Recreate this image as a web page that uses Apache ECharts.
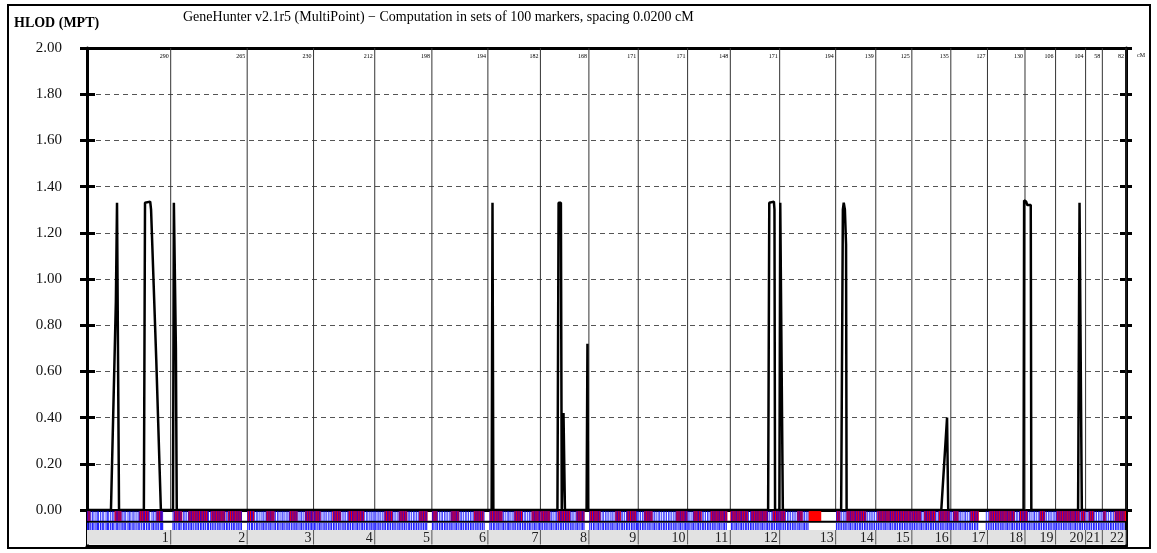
<!DOCTYPE html>
<html><head><meta charset="utf-8">
<script src="https://cdn.jsdelivr.net/npm/echarts@6/dist/echarts.min.js"></script>
<style>html,body{margin:0;padding:0;background:#fff}#c{width:1157px;height:553px}</style>
</head><body><div id="c"></div>
<script>
// ---------- DATA ----------
const chromosomes = ['1','2','3','4','5','6','7','8','9','10','11','12','13','14','15','16','17','18','19','20','21','22'];
const chromLengths = [290,265,230,212,198,194,182,168,171,171,148,171,194,139,125,135,127,130,106,104,58,82];
const yTicks = [0,0.2,0.4,0.6,0.8,1.0,1.2,1.4,1.6,1.8,2.0];
const titleText = 'GeneHunter v2.1r5 (MultiPoint) \u2212 Computation in sets of 100 markers, spacing 0.0200 cM';
const yAxisTitle = 'HLOD (MPT)';
// genome-wide position (cM) and HLOD score of the curve
const hlodPos = [0,83,100,104,109,111,197,201,204,219,222,240,256,298,301,304,308,311,1402,1405,1408,1630,1634,1642,1645,1650,1651,1655,1656,1731,1734,1736,2360,2364,2366,2380,2382,2384,2399,2402,2408,2411,2613,2619,2622,2626,2630,2632,2960,2980,2984,3245,3247,3254,3258,3270,3272,3434,3439,3445,3447,3600];
const hlodVal = [0,0,0.90,1.33,1.33,0,0,1.33,1.335,1.335,1.30,0.65,0,0,1.33,1.33,0.70,0,0,1.33,0,0,1.33,1.33,0,0,0.42,0.42,0,0,0.72,0,0,1.33,1.335,1.335,1.30,0,0,1.33,1.33,0,0,1.30,1.33,1.30,1.15,0,0,0.40,0,0,1.34,1.335,1.32,1.32,0,0,1.33,1.33,0,0];
// marker positions (cM, genome-wide)
const markerPos = [
2,7,13,19,24,31,36,40,47,53,58,66,71,75,82,88,93,101,105,111,118,124,129,134,142,147,152,159,163,170,177,181,188,195,199,206,212,217,225,230,236,242,247,254,258,262,
298,303,309,316,321,326,334,339,344,351,357,362,368,375,381,386,393,398,404,410,417,421,428,434,440,446,453,458,464,471,476,483,488,494,501,507,512,519,524,530,535,
557,563,570,574,581,588,592,599,606,611,617,623,630,635,641,648,653,660,665,672,678,683,690,696,701,708,714,720,725,731,738,743,749,756,761,767,773,778,783,
788,793,800,806,811,818,824,829,836,842,847,854,859,865,872,877,884,890,895,902,907,913,920,925,932,937,943,950,955,961,968,973,980,985,991,995,
999,1005,1011,1016,1023,1029,1034,1041,1046,1052,1059,1064,1070,1077,1082,1088,1094,1100,1106,1113,1118,1124,1131,1136,1142,1148,1154,1160,1166,1172,1177,
1197,1202,1209,1214,1221,1227,1232,1239,1244,1250,1257,1262,1268,1275,1280,1286,1293,1298,1304,1311,1316,1322,1329,1334,1340,1347,1352,1358,1364,1370,1376,
1396,1401,1408,1413,1420,1425,1431,1438,1443,1449,1456,1461,1466,1473,1479,1484,1491,1497,1502,1509,1515,1520,1527,1533,1538,1545,1551,1556,1563,1568,
1573,1579,1586,1591,1597,1604,1609,1615,1622,1627,1633,1640,1645,1651,1658,1663,1669,1676,1681,1687,1694,1699,1705,1712,1717,1722,
1742,1748,1755,1760,1767,1772,1778,1785,1790,1797,1802,1808,1815,1820,1826,1833,1838,1844,1851,1856,1862,1869,1874,1880,1887,1892,1898,1904,1908,
1912,1918,1925,1930,1936,1943,1948,1954,1961,1966,1972,1979,1984,1990,1997,2002,2008,2015,2020,2026,2033,2038,2044,2051,2056,2062,2069,2074,2079,
2083,2089,2096,2101,2107,2114,2119,2125,2132,2137,2143,2150,2155,2161,2168,2173,2179,2186,2191,2197,2204,2209,2215,
2233,2238,2245,2250,2256,2263,2268,2274,2281,2286,2292,2299,2304,2310,2317,2322,2328,2335,2340,2346,2353,2358,2364,2371,2376,2382,2389,2394,2398,
2402,2408,2414,2420,2427,2432,2438,2445,2450,2456,2463,2468,2474,2481,2486,2492,2498,
2597,2603,2609,2615,2622,2627,2633,2640,2645,2651,2658,2663,2669,2676,2681,2687,2694,2699,2705,2712,2717,2723,2729,
2736,2742,2748,2754,2761,2766,2772,2779,2784,2790,2797,2802,2808,2815,2820,2826,2833,2838,2844,2851,2855,
2861,2867,2873,2879,2886,2891,2897,2904,2909,2915,2922,2927,2933,2940,2945,2951,2958,2963,2969,2976,2981,2987,2991,
2996,3002,3008,3014,3021,3026,3032,3039,3044,3050,3057,3062,3068,3075,3080,3086,3116,
3123,3129,3135,3141,3148,3153,3159,3166,3171,3177,3184,3189,3195,3202,3207,3213,3220,3225,3231,3238,3243,3248,
3253,3259,3265,3271,3278,3283,3289,3296,3301,3307,3314,3319,3325,3332,3337,3343,3350,3354,
3359,3365,3371,3377,3384,3389,3395,3402,3407,3413,3420,3425,3431,3438,3443,3449,3456,
3462,3468,3474,3480,3487,3492,3498,3505,3510,3516,
3521,3527,3533,3539,3546,3551,3557,3564,3569,3575,3582,3587,3593];
// red blocks in the marker map row (cM intervals)
const redBlocks = [[0,12],[95,120],[180,215],[240,262],[300,330],[350,420],[430,480],[488,537],[555,580],[620,650],[700,730],[755,785],[785,810],[850,880],[905,960],[1030,1060],[1080,1110],[1150,1180],[1195,1215],[1260,1290],[1340,1375],[1395,1440],[1480,1510],[1540,1571],[1571,1605],[1630,1675],[1695,1724],[1741,1780],[1830,1850],[1869,1904],[1930,1960],[2040,2081],[2100,2130],[2160,2219],[2229,2290],[2300,2360],[2375,2400],[2400,2420],[2460,2480],[2500,2544],[2596,2610],[2631,2700],[2738,2858],[2858,2890],[2900,2940],[2950,2990],[3000,3020],[3060,3090],[3126,3215],[3230,3250],[3250,3260],[3300,3320],[3358,3440],[3444,3460],[3470,3490],[3520,3530],[3560,3600]];

// ---------- BUILD ----------
const chromEnds = [];
let acc = 0;
chromLengths.forEach((l,i)=>{ acc += l; chromEnds.push([acc, i]); });
const total = acc;
const SERIF = '"Liberation Serif", "DejaVu Serif", serif';

const chart = echarts.init(document.getElementById('c'), null, {renderer:'canvas'});

function baseY(grid, pos, extra){
  return Object.assign({type:'value', gridIndex:grid, position:pos, min:yTicks[0], max:yTicks[yTicks.length-1], interval:yTicks[1]-yTicks[0],
    axisLabel:{show:false}, splitLine:{show:false}, axisLine:{show:false}, axisTick:{show:false}}, extra);
}

const option = {
  animation:false,
  backgroundColor:'#fff',
  grid:[
    {left:87, right:31, top:48, height:462},
    {left:87, right:31, top:510, height:36}
  ],
  xAxis:[
    {type:'value', gridIndex:0, min:0, max:total, position:'bottom', axisLine:{show:true, onZero:false, lineStyle:{color:'#000', width:3}}, axisTick:{show:false}, axisLabel:{show:false}, splitLine:{show:false}},
    {type:'value', gridIndex:0, min:0, max:total, position:'top', axisLine:{show:true, onZero:false, lineStyle:{color:'#000', width:3}}, axisTick:{show:false}, axisLabel:{show:false}, splitLine:{show:false}},
    {type:'value', gridIndex:1, min:0, max:total, position:'bottom', axisLine:{show:true, onZero:false, lineStyle:{color:'#000', width:3}}, axisTick:{show:false}, axisLabel:{show:false}, splitLine:{show:false}}
  ],
  yAxis:[
    baseY(0,'left',{axisLine:{show:true, lineStyle:{color:'#000', width:3}}, axisTick:{show:true, length:7, lineStyle:{color:'#000', width:3}},
      axisLabel:{show:true, margin:25, fontSize:15, fontFamily:SERIF, color:'#111', formatter:v=>v.toFixed(2)},
      splitLine:{show:true, lineStyle:{color:'#555', width:1, type:[5,4]}}}),
    baseY(0,'left',{axisTick:{show:true, inside:true, length:8, lineStyle:{color:'#000', width:3}}}),
    baseY(0,'right',{axisLine:{show:true, lineStyle:{color:'#000', width:3}}, axisTick:{show:true, length:6, lineStyle:{color:'#000', width:3}}}),
    baseY(0,'right',{axisTick:{show:true, inside:true, length:6, lineStyle:{color:'#000', width:3}}}),
    {type:'value', gridIndex:1, min:0, max:36, position:'left', axisLine:{show:true, lineStyle:{color:'#000', width:3}}, axisTick:{show:false}, axisLabel:{show:false}, splitLine:{show:false}},
    {type:'value', gridIndex:1, min:0, max:36, position:'right', axisLine:{show:true, lineStyle:{color:'#000', width:3}}, axisTick:{show:false}, axisLabel:{show:false}, splitLine:{show:false}}
  ],
  graphic:[
    {type:'rect', shape:{x:8, y:5, width:1142, height:543}, style:{fill:'none', stroke:'#000', lineWidth:2}, z:100},
    {type:'text', left:14, top:16, style:{text:yAxisTitle, fontSize:14, fontWeight:'bold', fontFamily:SERIF, fill:'#000'}},
    {type:'text', left:183, top:10, style:{text:titleText, fontSize:14, fontFamily:SERIF, fill:'#000'}},
    {type:'text', left:1137, top:52, style:{text:'cM', fontSize:6, fontFamily:SERIF, fill:'#000'}}
  ],
  series:[
    { // chromosome boundaries + length labels in the plot
      type:'custom', xAxisIndex:0, yAxisIndex:0, silent:true, z:1,
      data: chromEnds.map(e=>[e[0], e[1]]),
      renderItem:(params, api)=>{
        const x = api.value(0), i = api.value(1);
        const top = api.coord([x, 2]), bot = api.coord([x, 0]);
        return {type:'group', children:[
          {type:'line', shape:{x1:top[0], y1:top[1], x2:bot[0], y2:bot[1]}, style:{stroke:'#333', lineWidth:1}},
          {type:'text', style:{text:String(chromLengths[i]), x:top[0]-2, y:top[1]+8, align:'right', verticalAlign:'middle', fontSize:6, fontFamily:SERIF, fill:'#000'}}
        ]};
      }
    },
    {
      type:'line', xAxisIndex:0, yAxisIndex:0, z:5, symbol:'none', showSymbol:false,
      data: hlodPos.map((p,i)=>[p, hlodVal[i]]),
      lineStyle:{color:'#000', width:2.5}
    },
    { // gray chromosome band + row separator
      type:'custom', xAxisIndex:2, yAxisIndex:4, silent:true, z:1,
      data:[[0,total]],
      renderItem:(params, api)=>{
        const a = api.coord([api.value(0), 16]), b = api.coord([api.value(1), 1.5]);
        const s1 = api.coord([api.value(0), 24.3]), s2 = api.coord([api.value(1), 24.3]);
        return {type:'group', children:[
          {type:'rect', shape:{x:a[0], y:a[1], width:b[0]-a[0], height:b[1]-a[1]}, style:{fill:'#e2e2e2'}},
          {type:'line', shape:{x1:s1[0], y1:s1[1], x2:s2[0], y2:s2[1]}, style:{stroke:'#000', lineWidth:2}}
        ]};
      }
    },
    { // red blocks in marker row
      type:'custom', xAxisIndex:2, yAxisIndex:4, silent:true, z:2,
      data: redBlocks,
      renderItem:(params, api)=>{
        const a = api.coord([api.value(0), 35]), b = api.coord([api.value(1), 25]);
        return {type:'rect', shape:{x:a[0], y:a[1], width:b[0]-a[0], height:b[1]-a[1]}, style:{fill:'#ff0000'}};
      }
    },
    { // markers
      type:'custom', xAxisIndex:2, yAxisIndex:4, silent:true, z:3,
      data: markerPos.map(p=>[p]),
      renderItem:(params, api)=>{
        const x = api.value(0);
        const a = api.coord([x, 35]), b = api.coord([x, 25]);
        const c = api.coord([x, 23.3]), d = api.coord([x, 16]);
        return {type:'group', children:[
          {type:'line', shape:{x1:a[0], y1:a[1], x2:b[0], y2:b[1]}, style:{stroke:'#0000ff', lineWidth:1, opacity:0.75}},
          {type:'line', shape:{x1:c[0], y1:c[1], x2:d[0], y2:d[1]}, style:{stroke:'#2222ff', lineWidth:1.2}}
        ]};
      }
    },
    { // chromosome separators + numbers in gray band
      type:'custom', xAxisIndex:2, yAxisIndex:4, silent:true, z:4,
      data: chromEnds.map(e=>[e[0], e[1]]),
      renderItem:(params, api)=>{
        const x = api.value(0), i = api.value(1);
        const a = api.coord([x, 16]), b = api.coord([x, 1.5]);
        const t = api.coord([x, 8]);
        return {type:'group', children:[
          {type:'line', shape:{x1:a[0], y1:a[1], x2:b[0], y2:b[1]}, style:{stroke:'#555', lineWidth:1}},
          {type:'text', style:{text:chromosomes[i], x:t[0]-2, y:t[1], align:'right', verticalAlign:'middle', fontSize:14, fontFamily:SERIF, fill:'#222'}}
        ]};
      }
    }
  ]
};
chart.setOption(option);
</script>
</body></html>
